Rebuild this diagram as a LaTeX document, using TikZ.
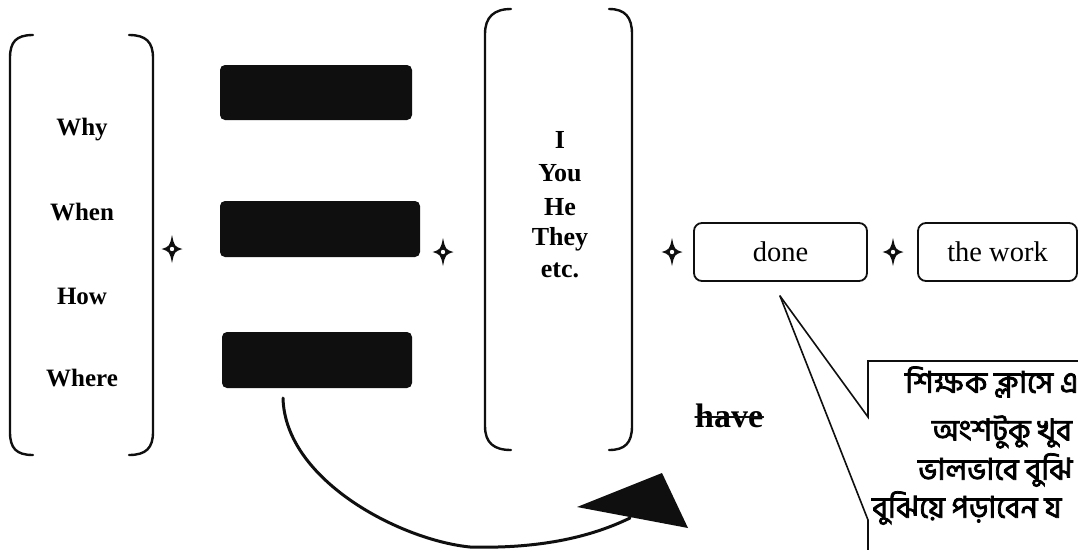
\documentclass[tikz,border=0pt]{standalone}
\usepackage{fontspec}
\setmainfont{Liberation Serif}
\newfontfamily\bnfont[Script=Bengali, FakeBold=2.5]{Hind Siliguri}
\usetikzlibrary{arrows.meta, positioning, calc}
\definecolor{ink}{RGB}{15, 15, 15}

\begin{document}
\begin{tikzpicture}[x=1pt, y=-1pt, line cap=round,
    bracket/.style={ink, line width=2.4pt},
    word/.style={font=\fontsize{25}{28}\selectfont\bfseries, inner sep=0pt},
    pron/.style={font=\fontsize{26}{28}\selectfont\bfseries, inner sep=0pt},
    blank/.style={fill=ink, rounded corners=5pt, inner sep=0pt},
    slot/.style={draw=ink, line width=1.8pt, rounded corners=8pt, inner sep=0pt, minimum height=58pt,
        font=\fontsize{28.5}{30}\selectfont},
    bn/.style={font=\bnfont\fontsize{30}{34}\selectfont, anchor=west, inner sep=0pt},
    plusmark/.pic={
        \fill[ink] (0,-14) .. controls (2.4,-2.6) .. (10.5,0) .. controls (2.4,2.6) .. (0,14)
            .. controls (-2.4,2.6) .. (-10.5,0) .. controls (-2.4,-2.6) .. cycle;
        \fill[white] (0,0) circle (2.2);
    }]
    \useasboundingbox (0,0) rectangle (1078,549);
    \clip (0,0) rectangle (1078,549);
    \fill[white] (0,0) rectangle (1078,549);

    \draw[bracket] (33,35) .. controls (16,35) and (10,42) .. (10,58) -- (10,432) .. controls (10,448) and (16,455) .. (33,455);
    \draw[bracket] (129,35) .. controls (146,35) and (153,42) .. (153,58) -- (153,432) .. controls (153,448) and (146,455) .. (129,455);
    \foreach \w/\y/\n in {Why/130/why, When/212/when, How/296/how, Where/378/where}
        \node[word] (\n) at (82,\y) {\w};

    \node[blank, minimum width=192pt, minimum height=55pt] (slotA) at (316,92.5) {};
    \node[blank, minimum width=200pt, minimum height=56pt] (slotB) at (320,229) {};
    \node[blank, minimum width=190pt, minimum height=56pt] (slotC) at (317,360) {};

    \draw[bracket] (511,9) .. controls (494,9) and (485,17) .. (485,34) -- (485,426) .. controls (485,443) and (494,450) .. (511,450);
    \draw[bracket] (609,9) .. controls (625,9) and (632,17) .. (632,34) -- (632,426) .. controls (632,443) and (625,450) .. (609,450);
    \foreach \w/\y/\n in {I/140/i, You/173/you, He/207/he, They/239/they, etc./270/etc}
        \node[pron] (\n) at (560,\y) {\w};

    \pic at (172,249) {plusmark};
    \pic at (443,252) {plusmark};
    \pic at (672,252) {plusmark};
    \pic at (893,252) {plusmark};

    \node[slot, minimum width=173pt] (done) at (780.5,252) {done};
    \node[slot, minimum width=159pt] (work) at (997.5,252) {the work};

    \node[font=\fontsize{34}{38}\selectfont\bfseries, anchor=base west, inner sep=0pt] (have) at (695,427) {have};
    \draw[ink, line width=1.4pt] ([yshift=10pt]have.base west) -- ([yshift=10pt]have.base east);

    \coordinate (cstart) at (283,398);
    \coordinate (cend) at (630,518);
    \draw[ink, line width=3pt] (cstart) .. controls (285,480) and (400,540) .. (470,547)
        .. controls (545,549) and (595,535) .. (cend);
    \fill[ink] (577,507) -- (662,473) -- (688,528) -- cycle;

    \coordinate (ptip) at (780,296);
    \draw[ink, line width=1.6pt, line join=miter] (ptip) -- (868,417) -- (868,361) -- (1090,361);
    \draw[ink, line width=1.6pt] (ptip) -- (868,520) -- (868,560);
    \node[bn] (bnA) at (905,382) {শিক্ষক ক্লাসে এ};
    \node[bn] (bnB) at (932,432) {অংশটুকু খুব};
    \node[bn] (bnC) at (918,470) {ভালভাবে বুঝি};
    \node[bn] (bnD) at (872,508) {বুঝিয়ে পড়াবেন য};
\end{tikzpicture}
\end{document}
